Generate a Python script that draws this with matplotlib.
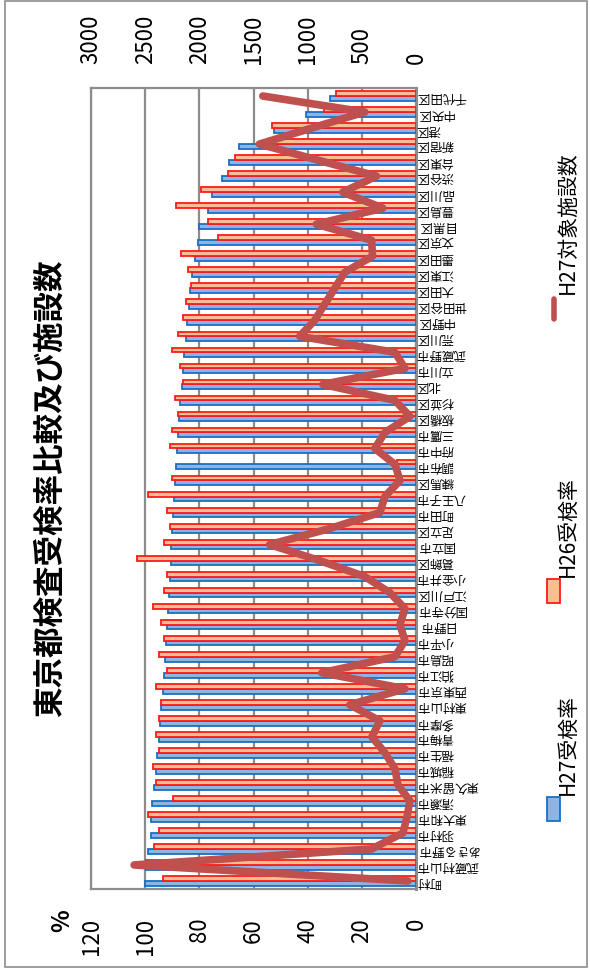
import matplotlib
matplotlib.use('Agg')
import matplotlib.pyplot as plt
from matplotlib.patches import Rectangle
import numpy as np

plt.rcParams['font.family'] = ['Noto Sans CJK JP', 'DejaVu Sans']

# 区市町村名 (上から順 = 元グラフの右から左)
names = ['千代田区', '中央区', '港区', '新宿区', '台東区', '渋谷区', '品川区', '豊島区',
         '目黒区', '文京区', '墨田区', '江東区', '大田区', '世田谷区', '中野区', '荒川区',
         '武蔵野市', '立川市', '北区', '杉並区', '板橋区', '三鷹市', '府中市', '調布市',
         '練馬区', '八王子市', '町田市', '足立区', '国立市', '葛飾区', '小金井市', '江戸川区',
         '国分寺市', '日野市', '小平市', '昭島市', '狛江市', '西東京市', '東村山市', '多摩市',
         '青梅市', '福生市', '稲城市', '東久留米市', '清瀬市', '東大和市', '羽村市', 'あきる野市',
         '武蔵村山市', '町村']
# H27受検率 (%)
h27 = [31.6, 40.7, 52.5, 65.2, 69.1, 71.6, 75.3, 76.9, 80.0, 80.5, 81.5, 82.7,
       83.5, 84.0, 84.5, 85.0, 85.5, 86.0, 86.5, 87.0, 87.5, 88.0, 88.3, 88.6,
       89.0, 89.3, 89.6, 90.0, 90.3, 90.6, 91.0, 91.3, 91.6, 92.0, 92.4, 92.8,
       93.2, 93.6, 94.0, 94.5, 95.0, 95.5, 96.0, 96.8, 97.5, 97.9, 97.9, 98.8,
       99.7, 100.0]
# H26受検率 (%)
h26 = [29.7, 33.9, 53.1, 55.0, 67.0, 69.3, 79.3, 88.8, 76.9, 73.2, 86.6, 84.3,
       83.0, 85.0, 86.0, 88.0, 90.0, 87.0, 86.0, 89.0, 88.0, 90.0, 91.0, 7.0,
       90.0, 99.0, 92.0, 91.0, 93.0, 103.0, 92.0, 93.0, 97.0, 94.0, 93.0, 95.0,
       92.0, 96.0, 94.0, 95.0, 96.0, 95.0, 97.0, 96.0, 89.9, 99.1, 94.8, 96.9,
       99.7, 93.6]
# H27対象施設数
cnt = [1414, 472, 963, 1445, 907, 364, 676, 306, 920, 410, 401, 657,
       750, 843, 935, 1074, 194, 102, 861, 194, 56, 287, 380, 194,
       148, 287, 333, 796, 1352, 889, 472, 241, 102, 148, 102, 194,
       870, 102, 611, 333, 407, 287, 194, 167, 56, 83, 120, 410,
       2602, 74]

# 元グラフの並び(左→右)に戻す
names = names[::-1]
h27 = h27[::-1]
h26 = h26[::-1]
cnt = cnt[::-1]
pos = np.arange(len(names))

W, H = 590, 970
fig = plt.figure(figsize=(W / 100, H / 100), dpi=100)
fig.patches.append(Rectangle((5 / W, 2 / H), 582 / W, 966 / H, transform=fig.transFigure,
                             fill=False, ec='#8c8c8c', lw=1.2))

ax = fig.add_axes([91 / W, 1 - 890 / H, 325 / W, 801 / H])
bh = 0.3
ax.barh(pos - bh / 2, h27, height=bh, color='#8eb4e3', edgecolor='#1a6fc4', lw=1.3, zorder=3)
ax.barh(pos + bh / 2, h26, height=bh, color='#f9c08f', edgecolor='#ff1a1a', lw=1.3, zorder=3)
ax.set_xlim(120, 0)
ax.set_ylim(-0.5, len(names) - 0.5)
ax.set_xticks(range(0, 121, 20))
ax.tick_params(axis='x', labelrotation=90, labelsize=16, length=0, pad=20)
ax.set_yticks([])
ax.grid(axis='x', color='#8c8c8c', lw=1.6, zorder=0)
for s in ax.spines.values():
    s.set_color('#8c8c8c')
    s.set_linewidth(1.6)
ax.spines['right'].set_linewidth(2.2)

for p, n in zip(pos, names):
    ax.text(1.0, p, n, transform=ax.get_yaxis_transform(), rotation=180,
            rotation_mode='anchor', ha='right', va='center', fontsize=9)

ax2 = ax.twiny()
ax2.plot(cnt, pos, color='#c0504d', lw=5.5, solid_capstyle='round', solid_joinstyle='round', zorder=5)
ax2.set_xlim(3000, 0)
ax2.set_xticks(range(0, 3001, 500))
ax2.tick_params(axis='x', labelrotation=90, labelsize=16, length=0, pad=18)
for s in ax2.spines.values():
    s.set_visible(False)

fig.text(62 / W, 1 - 921 / H, '%', rotation=90, fontsize=17, fontweight='bold', ha='center', va='center')
fig.text(50 / W, 1 - 488 / H, '東京都検査受検率比較及び施設数', rotation=90, fontsize=22,
         fontweight='bold', ha='center', va='center')

# 凡例
fig.patches.append(Rectangle((547 / W, 1 - 822 / H), 13 / W, 24 / H, transform=fig.transFigure,
                             fc='#8eb4e3', ec='#1a6fc4', lw=1.3))
fig.text(568 / W, 1 - 795 / H, 'H27受検率', rotation=90, fontsize=15, ha='center', va='bottom')
fig.patches.append(Rectangle((547 / W, 1 - 604 / H), 13 / W, 24 / H, transform=fig.transFigure,
                             fc='#f9c08f', ec='#ff1a1a', lw=1.3))
fig.text(568 / W, 1 - 577 / H, 'H26受検率', rotation=90, fontsize=15, ha='center', va='bottom')
fig.lines.append(plt.Line2D([554 / W, 554 / W], [1 - 320 / H, 1 - 300 / H], transform=fig.transFigure,
                            color='#c0504d', lw=4, solid_capstyle='round'))
fig.text(568 / W, 1 - 294 / H, 'H27対象施設数', rotation=90, fontsize=15, ha='center', va='bottom')

fig.savefig('out.png', dpi=100)
